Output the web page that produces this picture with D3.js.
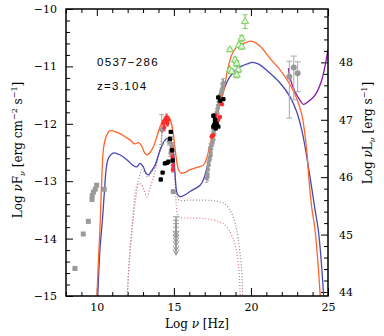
<!DOCTYPE html>
<html>
<head>
<meta charset="utf-8">
<script src="https://cdn.jsdelivr.net/npm/d3@7"></script>
<style>
  body { margin: 0; background: #fff; }
  svg text { font-family: "DejaVu Serif", serif; }
</style>
</head>
<body>
<svg id="sed"></svg>
<script>
// ---- data (log nu [Hz], log nuFnu [erg cm^-2 s^-1]) ----
const sourceName = '0537\u2212286';
const redshiftLabel = 'z=3.104';
const lumOffset = 58.93;   // log nuL = log nuF + offset

const xMajor = [10, 15, 20, 25];
const yMajor = [-10, -11, -12, -13, -14, -15];
const lMajor = [44, 45, 46, 47, 48];

const radioSquares = [[8.58,-14.52],[9.12,-13.92],[9.45,-13.70],[9.69,-13.32],[9.70,-13.25],
  [9.78,-13.19],[9.90,-13.14],[9.99,-13.07],[10.48,-13.14]];

const optGrey = [[14.21,-12.10,0.26],[14.70,-12.31,0.06],[14.81,-12.51,0.06],[14.88,-12.40,0.05],[14.96,-13.18,0.03]];
const optRed = [[14.31,-11.99,0.05],[14.38,-12.07,0.05],[14.42,-11.93,0.05],[14.50,-11.95,0.04],[14.53,-11.88,0.05],
  [14.58,-12.00,0.04],[14.64,-11.93,0.05],[14.86,-12.46,0.04],[14.90,-12.58,0.04],[14.94,-12.72,0.04],[14.92,-12.80,0.04]];
const optBlack = [[14.80,-12.14],[14.75,-12.26],[14.88,-12.46],[14.92,-12.64],[14.64,-12.66],[14.55,-12.68],
  [14.42,-12.69],[14.27,-12.85],[14.15,-12.97]];
const uvLimits = [[15.14,-13.62],[15.14,-13.68],[15.14,-13.74],[15.14,-13.80],[15.14,-13.88],[15.14,-13.95]];

const xrayGrey = [[17.13,-12.95],[17.18,-12.88],[17.22,-12.80],[17.27,-12.72],[17.30,-12.64],[17.35,-12.58],
  [17.38,-12.50],[17.42,-12.44],[17.46,-12.38],[17.50,-12.32],[17.52,-12.25],[17.56,-12.18],[17.60,-12.12],
  [17.63,-12.05],[17.66,-11.99],[17.70,-11.92],[17.74,-11.86],[17.78,-11.80],[17.82,-11.74],[17.86,-11.68],
  [17.90,-11.62],[17.95,-11.56],[18.00,-11.50],[18.06,-11.45],[18.12,-11.40],[18.18,-11.36],[18.15,-11.30],
  [17.58,-12.28],[17.48,-12.20],[17.75,-11.95],[17.40,-12.55],[17.68,-12.10],[18.22,-11.28],[17.24,-12.68],
  [17.34,-12.42],[17.55,-12.08],[17.84,-11.82],[17.20,-12.92]];
const xrayBlack = [[17.88,-11.54],[18.21,-11.57],[18.00,-11.60],[17.56,-11.86],[17.67,-11.93],[17.78,-12.00],
  [17.56,-12.05],[17.71,-12.08],[17.88,-12.05],[17.67,-11.98],[17.62,-12.02]];
const xrayRed = [[17.67,-11.85],[17.99,-11.88],[17.88,-11.93],[17.56,-12.20],[17.45,-12.22],[18.12,-11.66]];

const hardX = [[19.62,-10.22,0.12],[19.40,-10.51,0.05],[19.23,-10.63,0.04],[19.40,-10.66,0.04],[18.64,-10.71,0.03],
  [18.97,-10.89,0.05],[19.08,-10.95,0.05],[19.18,-11.06,0.05],[18.64,-11.06,0.03],[18.75,-11.09,0.04],[19.08,-11.15,0.05]];

// [nu, F, err up, err down]
const gammaPts = [[22.49,-11.18,0.27,0.72],[22.78,-11.02,0.20,0.56],[23.03,-11.12,0.20,0.32]];

const modelOrange = [[9.96,-15.3],[10.01,-15.0],[10.1,-14.4],[10.21,-13.79],[10.3,-13.1],[10.42,-12.46],[10.52,-12.3],
  [10.64,-12.20],[10.8,-12.13],[10.97,-12.12],[11.2,-12.14],[11.5,-12.17],[11.8,-12.22],[12.15,-12.28],[12.45,-12.35],
  [12.7,-12.33],[12.9,-12.38],[13.05,-12.48],[13.24,-12.54],[13.45,-12.50],[13.67,-12.40],[13.9,-12.22],[14.1,-12.05],
  [14.3,-11.94],[14.5,-11.89],[14.65,-11.88],[14.8,-11.95],[14.95,-12.15],[15.07,-12.42],[15.2,-12.68],[15.3,-12.80],
  [15.45,-12.86],[15.7,-12.85],[16.05,-12.80],[16.5,-12.76],[16.91,-12.72],[17.13,-12.60],[17.35,-12.35],[17.67,-12.00],
  [17.99,-11.66],[18.21,-11.45],[18.53,-11.01],[18.75,-10.80],[19.08,-10.66],[19.62,-10.59],[19.94,-10.56],[20.15,-10.57],
  [20.6,-10.65],[21.24,-10.86],[21.89,-11.06],[22.54,-11.32],[22.97,-11.56],[23.30,-11.84],[23.51,-12.20],[23.64,-12.52],
  [23.75,-12.92],[23.94,-13.45],[24.16,-13.85],[24.48,-14.93],[24.55,-15.3]];
const modelBlue = [[10.0,-15.3],[10.06,-15.0],[10.2,-14.2],[10.38,-13.62],[10.5,-13.15],[10.60,-12.80],[10.7,-12.64],
  [10.81,-12.57],[11.05,-12.51],[11.3,-12.52],[11.68,-12.57],[12.0,-12.64],[12.33,-12.72],[12.59,-12.75],[12.80,-12.69],
  [13.0,-12.74],[13.15,-12.84],[13.34,-12.89],[13.55,-12.82],[13.78,-12.72],[14.10,-12.46],[14.43,-12.28],[14.70,-12.25],
  [14.85,-12.32],[14.96,-12.45],[15.07,-12.85],[15.22,-13.22],[15.40,-13.27],[15.7,-13.24],[16.05,-13.18],[16.70,-13.07],
  [16.91,-12.98],[17.13,-12.78],[17.34,-12.52],[17.67,-12.05],[17.99,-11.64],[18.32,-11.35],[18.64,-11.18],[19.18,-11.03],
  [19.83,-10.95],[20.07,-10.93],[20.5,-10.96],[21.24,-11.12],[21.89,-11.29],[22.54,-11.53],[22.97,-11.79],[23.30,-12.11],
  [23.51,-12.40],[23.83,-12.92],[24.16,-13.50],[24.37,-13.85],[24.70,-14.93],[24.76,-15.3]];
const modelPurple = [[22.43,-11.03],[22.54,-11.21],[22.86,-11.44],[23.19,-11.59],[23.40,-11.66],[23.73,-11.61],
  [24.16,-11.50],[24.59,-11.24],[24.92,-10.83],[25.0,-10.70]];
const thermalGrey = [[11.95,-15.3],[12.0,-14.95],[12.11,-14.37],[12.33,-13.73],[12.54,-13.27],[12.76,-12.92],[12.93,-12.80],
  [13.1,-12.84],[13.3,-12.93],[13.5,-12.87],[13.78,-12.74],[14.10,-12.48],[14.43,-12.30],[14.70,-12.27],[14.85,-12.34],
  [14.96,-12.47],[15.07,-12.88],[15.2,-13.25],[15.35,-13.33],[16.0,-13.33],[17.0,-13.33],[17.6,-13.34],[18.21,-13.38],
  [18.64,-13.50],[18.97,-13.73],[19.18,-14.02],[19.40,-14.55],[19.46,-14.98],[19.48,-15.3]];
const thermalPink = [[11.9,-15.3],[11.97,-14.98],[12.1,-14.4],[12.3,-13.75],[12.5,-13.2],[12.65,-13.05],[12.85,-13.05],
  [13.05,-13.15],[13.24,-13.27],[13.45,-13.12],[13.78,-12.83],[13.99,-12.57],[14.2,-12.25],[14.4,-11.98],[14.55,-11.90],
  [14.7,-11.92],[14.85,-12.05],[14.97,-12.40],[15.07,-13.0],[15.22,-13.55],[15.35,-13.63],[16.0,-13.64],[17.0,-13.65],
  [17.99,-13.71],[18.42,-13.79],[18.8,-13.97],[19.05,-14.2],[19.22,-14.55],[19.3,-14.98],[19.32,-15.3]];

// ---- layout ----
const width = 384, height = 336;
const mLeft = 66, mRight = 328, mTop = 9, mBottom = 296;

const svg = d3.select('#sed').attr('width', width).attr('height', height);

const x = d3.scaleLinear().domain([8, 25]).range([mLeft, mRight]);
const y = d3.scaleLinear().domain([-15, -10]).range([mBottom, mTop]);
const yL = d3.scaleLinear().domain([-15 + lumOffset, -10 + lumOffset]).range([mBottom, mTop]);

svg.append('clipPath').attr('id', 'plotclip')
  .append('rect').attr('x', mLeft).attr('y', mTop).attr('width', mRight - mLeft).attr('height', mBottom - mTop);

const minorX = d3.range(8, 25.01, 1).filter(v => !xMajor.includes(v));
const minorY = d3.range(-15, -9.99, 0.2).map(v => +v.toFixed(1)).filter(v => !yMajor.includes(v));
const minorL = d3.range(44, yL.domain()[1], 0.2).map(v => +v.toFixed(1)).filter(v => !lMajor.includes(v));

function styleAxis(g) {
  g.select('.domain').remove();
  g.selectAll('line').attr('stroke', '#000').attr('stroke-width', 1);
  g.selectAll('text').attr('font-size', 11).attr('fill', '#000').style('font-family', '"DejaVu Serif", serif');
}

svg.append('g').attr('transform', `translate(0,${mBottom})`)
  .call(d3.axisBottom(x).tickValues(xMajor).tickSize(-8).tickPadding(7).tickFormat(d3.format('d'))).call(styleAxis);
svg.append('g').attr('transform', `translate(0,${mBottom})`)
  .call(d3.axisBottom(x).tickValues(minorX).tickSize(-4).tickFormat('')).call(styleAxis);
svg.append('g').attr('transform', `translate(0,${mTop})`)
  .call(d3.axisTop(x).tickValues(xMajor).tickSize(-7).tickFormat('')).call(styleAxis);
svg.append('g').attr('transform', `translate(0,${mTop})`)
  .call(d3.axisTop(x).tickValues(minorX).tickSize(-4).tickFormat('')).call(styleAxis);

svg.append('g').attr('transform', `translate(${mLeft},0)`)
  .call(d3.axisLeft(y).tickValues(yMajor).tickSize(-7).tickPadding(9).tickFormat(d3.format('d'))).call(styleAxis);
svg.append('g').attr('transform', `translate(${mLeft},0)`)
  .call(d3.axisLeft(y).tickValues(minorY).tickSize(-4).tickFormat('')).call(styleAxis);

svg.append('g').attr('transform', `translate(${mRight},0)`)
  .call(d3.axisRight(yL).tickValues(lMajor).tickSize(-7).tickPadding(11).tickFormat(d3.format('d'))).call(styleAxis);
svg.append('g').attr('transform', `translate(${mRight},0)`)
  .call(d3.axisRight(yL).tickValues(minorL).tickSize(-4).tickFormat('')).call(styleAxis);

// axis titles
svg.append('text').attr('x', 197).attr('y', 328).attr('text-anchor', 'middle').attr('font-size', 12)
  .html('Log <tspan font-style="italic">ν</tspan> [Hz]');
svg.append('text').attr('transform', 'translate(22,150) rotate(-90)').attr('text-anchor', 'middle').attr('font-size', 12)
  .html('Log <tspan font-style="italic">ν</tspan>F<tspan font-size="8" dy="3" font-style="italic">ν</tspan><tspan dy="-3"> [erg cm</tspan><tspan font-size="8" dy="-5">−2</tspan><tspan dy="5"> s</tspan><tspan font-size="8" dy="-5">−1</tspan><tspan dy="5">]</tspan>');
svg.append('text').attr('transform', 'translate(372,133) rotate(-90)').attr('text-anchor', 'middle').attr('font-size', 12)
  .html('Log <tspan font-style="italic">ν</tspan>L<tspan font-size="8" dy="3" font-style="italic">ν</tspan><tspan dy="-3"> [erg s</tspan><tspan font-size="8" dy="-5">−1</tspan><tspan dy="5">]</tspan>');

svg.append('text').attr('x', 97).attr('y', 66).attr('font-size', 11.5).attr('letter-spacing', 1.3)
  .style('font-family', '"Liberation Sans", Arial, sans-serif').text(sourceName);
svg.append('text').attr('x', 97).attr('y', 90).attr('font-size', 11.5).attr('letter-spacing', 1.3)
  .style('font-family', '"Liberation Sans", Arial, sans-serif').text(redshiftLabel);

const plot = svg.append('g').attr('clip-path', 'url(#plotclip)');
const line = d3.line().x(d => x(d[0])).y(d => y(d[1])).curve(d3.curveCatmullRom.alpha(0.5));

// dotted thermal components
plot.append('path').datum(thermalGrey).attr('d', line).attr('fill', 'none')
  .attr('stroke', '#8a8a8a').attr('stroke-width', 1.2).attr('stroke-dasharray', '1,2');
plot.append('path').datum(thermalPink).attr('d', line).attr('fill', 'none')
  .attr('stroke', '#e0707a').attr('stroke-width', 1.2).attr('stroke-dasharray', '1,2');

// model curves (under the data)
plot.append('path').datum(modelPurple).attr('d', line).attr('fill', 'none')
  .attr('stroke', '#8a14a8').attr('stroke-width', 1.3);
plot.append('path').datum(modelBlue).attr('d', line).attr('fill', 'none')
  .attr('stroke', '#4848b0').attr('stroke-width', 1.3);
plot.append('path').datum(modelOrange).attr('d', line).attr('fill', 'none')
  .attr('stroke', '#ff6428').attr('stroke-width', 1.3);

// data points
function errBars(g, data, color, cap, up, down) {
  g.selectAll(null).data(data).join('line')
    .attr('x1', d => x(d[0])).attr('x2', d => x(d[0]))
    .attr('y1', d => y(d[1] + up(d))).attr('y2', d => y(d[1] - down(d)))
    .attr('stroke', color).attr('stroke-width', 1);
  if (cap > 0) {
    [up, down].forEach((f, k) => {
      g.selectAll(null).data(data).join('line')
        .attr('x1', d => x(d[0]) - cap).attr('x2', d => x(d[0]) + cap)
        .attr('y1', d => y(d[1] + (k ? -f(d) : f(d)))).attr('y2', d => y(d[1] + (k ? -f(d) : f(d))))
        .attr('stroke', color).attr('stroke-width', 1);
    });
  }
}

const pts = plot.append('g');
pts.selectAll('rect.radio').data(radioSquares).join('rect').attr('class', 'radio')
  .attr('x', d => x(d[0]) - 2.5).attr('y', d => y(d[1]) - 2.5).attr('width', 5).attr('height', 5).attr('fill', '#9a9a9a');

// uv upper limits
const ul = pts.append('g');
ul.selectAll('line.cap').data(uvLimits).join('line').attr('class', 'cap')
  .attr('x1', d => x(d[0]) - 3).attr('x2', d => x(d[0]) + 3).attr('y1', d => y(d[1])).attr('y2', d => y(d[1]))
  .attr('stroke', '#999').attr('stroke-width', 1);
ul.selectAll('line.stem').data(uvLimits).join('line').attr('class', 'stem')
  .attr('x1', d => x(d[0])).attr('x2', d => x(d[0])).attr('y1', d => y(d[1])).attr('y2', d => y(d[1] - 0.33))
  .attr('stroke', '#999').attr('stroke-width', 1.5);
ul.selectAll('path').data(uvLimits).join('path')
  .attr('d', d => `M${x(d[0]) - 3},${y(d[1] - 0.24)} L${x(d[0])},${y(d[1] - 0.34)} L${x(d[0]) + 3},${y(d[1] - 0.24)}`)
  .attr('fill', 'none').attr('stroke', '#999').attr('stroke-width', 1);

errBars(pts, optGrey, '#a0a0a0', 2.5, d => d[2], d => d[2]);
pts.selectAll('circle.og').data(optGrey).join('circle').attr('class', 'og')
  .attr('cx', d => x(d[0])).attr('cy', d => y(d[1])).attr('r', 2.6).attr('fill', '#9a9a9a');

errBars(pts, xrayGrey, '#aaaaaa', 1.5, () => 0.07, () => 0.07);
pts.selectAll('circle.xg').data(xrayGrey).join('circle').attr('class', 'xg')
  .attr('cx', d => x(d[0])).attr('cy', d => y(d[1])).attr('r', 2).attr('fill', '#999');

errBars(pts, optRed, '#ff4040', 1.5, d => d[2], d => d[2]);
pts.selectAll('circle.or').data(optRed).join('circle').attr('class', 'or')
  .attr('cx', d => x(d[0])).attr('cy', d => y(d[1])).attr('r', 2).attr('fill', '#ff2a2a');
pts.selectAll('circle.xr').data(xrayRed).join('circle').attr('class', 'xr')
  .attr('cx', d => x(d[0])).attr('cy', d => y(d[1])).attr('r', 2.2).attr('fill', '#ff2a2a');

pts.selectAll('rect.ob').data(optBlack.concat(xrayBlack)).join('rect').attr('class', 'ob')
  .attr('x', d => x(d[0]) - 2.2).attr('y', d => y(d[1]) - 2.2).attr('width', 4.4).attr('height', 4.4)
  .attr('rx', 1.2).attr('fill', '#000');

errBars(pts, hardX, '#7ccc5c', 2.5, d => d[2], d => d[2]);
pts.selectAll('path.hx').data(hardX).join('path').attr('class', 'hx')
  .attr('transform', d => `translate(${x(d[0])},${y(d[1])})`)
  .attr('d', d3.symbol(d3.symbolTriangle, 22))
  .attr('fill', '#e4f6dc').attr('stroke', '#7ccc5c').attr('stroke-width', 1);

errBars(pts, gammaPts, '#aaaaaa', 3, d => d[2], d => d[3]);
pts.selectAll('circle.gm').data(gammaPts).join('circle').attr('class', 'gm')
  .attr('cx', d => x(d[0])).attr('cy', d => y(d[1])).attr('r', 3).attr('fill', '#999');

// frame on top
svg.append('rect').attr('x', mLeft).attr('y', mTop).attr('width', mRight - mLeft).attr('height', mBottom - mTop)
  .attr('fill', 'none').attr('stroke', '#000').attr('stroke-width', 1.5);
</script>
</body>
</html>
